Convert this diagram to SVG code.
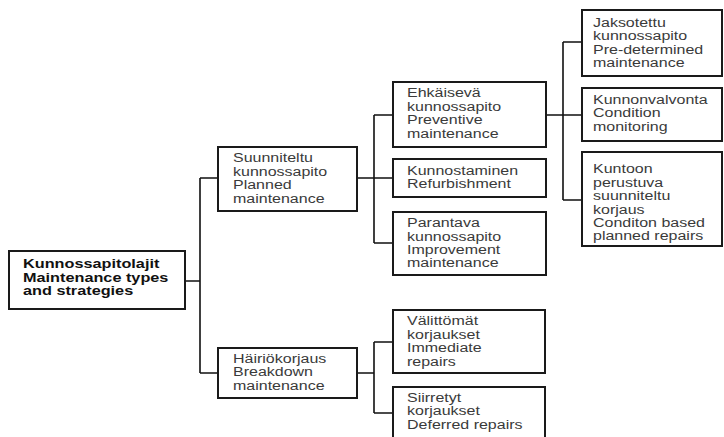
<svg xmlns="http://www.w3.org/2000/svg" width="724" height="437" viewBox="0 0 724 437">
<style>
.box{fill:#fff;stroke:#1a1a1a;stroke-width:2}
.t{font-family:"Liberation Sans",Arial,sans-serif;font-size:12.5px;fill:#3a3a3a}
.b{font-family:"Liberation Sans",Arial,sans-serif;font-size:12.8px;font-weight:bold;fill:#111}
.c{fill:none;stroke:#111;stroke-width:1.6}
</style>
<rect width="724" height="437" fill="#fff"/>
<g id="connectors">
<path class="c" d="M185 281H200M200 178V373M200 178H218M200 373H218"/>
<path class="c" d="M357 178H374M374 115V243M374 115H393M374 178H393M374 243H393"/>
<path class="c" d="M546 115H563M563 42V200M563 42H582M563 115H582M563 200H582"/>
<path class="c" d="M357 373H374M374 342V413M374 342H393M374 413H393"/>
</g>
<g id="root">
<rect class="box" x="9" y="251" width="176" height="58"/>
<text class="b" transform="translate(23,0) scale(1.27,1)"><tspan x="0" y="268">Kunnossapitolajit</tspan><tspan x="0" y="282">Maintenance types</tspan><tspan x="0" y="295.5">and strategies</tspan></text>
</g>
<g id="planned">
<rect class="box" x="218" y="147" width="139" height="64"/>
<text class="t" transform="translate(233,0) scale(1.28,1)"><tspan x="0" y="162.5">Suunniteltu</tspan><tspan x="0" y="176">kunnossapito</tspan><tspan x="0" y="189.5">Planned</tspan><tspan x="0" y="203">maintenance</tspan></text>
</g>
<g id="breakdown">
<rect class="box" x="218" y="348" width="139" height="50"/>
<text class="t" transform="translate(233,0) scale(1.28,1)"><tspan x="0" y="363">Häiriökorjaus</tspan><tspan x="0" y="376.5">Breakdown</tspan><tspan x="0" y="390">maintenance</tspan></text>
</g>
<g id="preventive">
<rect class="box" x="393" y="82" width="153" height="65"/>
<text class="t" transform="translate(407,0) scale(1.28,1)"><tspan x="0" y="97">Ehkäisevä</tspan><tspan x="0" y="111">kunnossapito</tspan><tspan x="0" y="124.5">Preventive</tspan><tspan x="0" y="138">maintenance</tspan></text>
</g>
<g id="refurbishment">
<rect class="box" x="393" y="159" width="153" height="38"/>
<text class="t" transform="translate(407,0) scale(1.28,1)"><tspan x="0" y="175">Kunnostaminen</tspan><tspan x="0" y="188.5">Refurbishment</tspan></text>
</g>
<g id="improvement">
<rect class="box" x="393" y="212" width="153" height="63"/>
<text class="t" transform="translate(407,0) scale(1.28,1)"><tspan x="0" y="227">Parantava</tspan><tspan x="0" y="241">kunnossapito</tspan><tspan x="0" y="254">Improvement</tspan><tspan x="0" y="267">maintenance</tspan></text>
</g>
<g id="immediate">
<rect class="box" x="393" y="310" width="152" height="63"/>
<text class="t" transform="translate(407,0) scale(1.28,1)"><tspan x="0" y="325">Välittömät</tspan><tspan x="0" y="339">korjaukset</tspan><tspan x="0" y="352.5">Immediate</tspan><tspan x="0" y="366">repairs</tspan></text>
</g>
<g id="deferred">
<rect class="box" x="393" y="387" width="152" height="60"/>
<text class="t" transform="translate(407,0) scale(1.28,1)"><tspan x="0" y="402">Siirretyt</tspan><tspan x="0" y="415.5">korjaukset</tspan><tspan x="0" y="429">Deferred repairs</tspan></text>
</g>
<g id="predetermined">
<rect class="box" x="582" y="10" width="140" height="66"/>
<text class="t" transform="translate(593,0) scale(1.28,1)"><tspan x="0" y="27">Jaksotettu</tspan><tspan x="0" y="40.5">kunnossapito</tspan><tspan x="0" y="54">Pre-determined</tspan><tspan x="0" y="67.5">maintenance</tspan></text>
</g>
<g id="condition">
<rect class="box" x="582" y="88" width="140" height="53"/>
<text class="t" transform="translate(593,0) scale(1.28,1)"><tspan x="0" y="104">Kunnonvalvonta</tspan><tspan x="0" y="117.5">Condition</tspan><tspan x="0" y="131">monitoring</tspan></text>
</g>
<g id="conditionrepairs">
<rect class="box" x="582" y="152" width="140" height="94"/>
<text class="t" transform="translate(593,0) scale(1.28,1)"><tspan x="0" y="173">Kuntoon</tspan><tspan x="0" y="187">perustuva</tspan><tspan x="0" y="200">suunniteltu</tspan><tspan x="0" y="214">korjaus</tspan><tspan x="0" y="227">Conditon based</tspan><tspan x="0" y="240">planned repairs</tspan></text>
</g>
</svg>
